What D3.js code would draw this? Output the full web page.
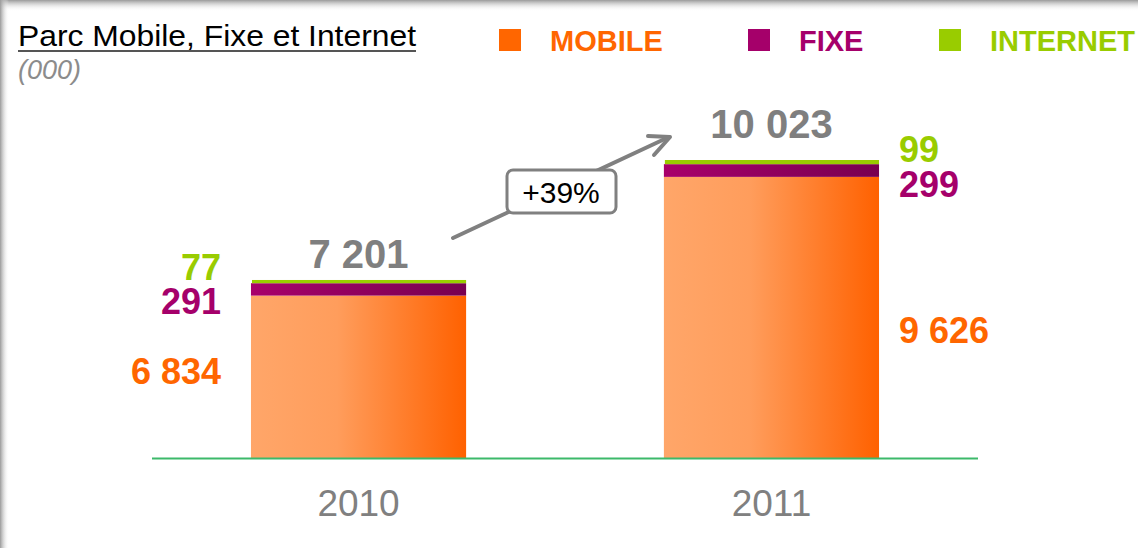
<!DOCTYPE html>
<html>
<head>
<meta charset="utf-8">
<script src="https://cdn.jsdelivr.net/npm/d3@7"></script>
<style>
  body { margin: 0; background: #fff; }
  svg { display: block; font-family: Arial, 'Liberation Sans', sans-serif; }
</style>
</head>
<body>
<div id="chart"></div>
<script>
// data (000)
const years = ['2010', '2011']
const mobile = [6834, 9626]
const fixe = [291, 299]
const internet = [77, 99]
const totals = [7201, 10023]
const growthLabel = '+39%'
const seriesNames = ['MOBILE', 'FIXE', 'INTERNET']
const seriesColors = ['#FF6600', '#A5006A', '#99CC00']

const width = 1138
const height = 548
const fmt = v => d3.format(',')(v).replace(/,/g, ' ')

const svg = d3.select('#chart').append('svg')
  .attr('width', width)
  .attr('height', height)

const defs = svg.append('defs')
const grad = (id, stops, dir) => {
  let g = defs.append('linearGradient').attr('id', id)
  if (dir === 'v') g.attr('x1', 0).attr('x2', 0).attr('y1', 0).attr('y2', 1)
  stops.forEach(s => g.append('stop').attr('offset', s[0]).attr('stop-color', s[1]).attr('stop-opacity', s[2] === undefined ? 1 : s[2]))
}
grad('gMobile', [[0, '#FFA669'], [0.4, '#FF9D5C'], [1, '#FF6100']])
grad('gFixe', [[0, '#A8006B'], [1, '#780050']])
grad('gTop', [[0, '#9a9a9a'], [1, '#ffffff', 0]], 'v')
grad('gLeft', [[0, '#9a9a9a'], [1, '#ffffff', 0]])

// frame shadow
svg.append('rect').attr('x', 0).attr('y', 0).attr('width', width).attr('height', 11).attr('fill', 'url(#gTop)')
svg.append('rect').attr('x', 0).attr('y', 0).attr('width', 9).attr('height', height).attr('fill', 'url(#gLeft)')

// title
svg.append('text')
  .attr('x', 18).attr('y', 46)
  .attr('font-size', 29)
  .attr('textLength', 398).attr('lengthAdjust', 'spacingAndGlyphs')
  .attr('fill', '#000')
  .text('Parc Mobile, Fixe et Internet')
svg.append('line')
  .attr('x1', 18).attr('x2', 416).attr('y1', 51).attr('y2', 51)
  .attr('stroke', '#555').attr('stroke-width', 2)
svg.append('text')
  .attr('x', 18).attr('y', 79)
  .attr('font-size', 27).attr('font-style', 'italic')
  .attr('fill', '#8c8c8c')
  .text('(000)')

// legend
const legendX = [499, 748, 939]
const legend = svg.append('g').selectAll('g').data(seriesNames).enter().append('g')
  .attr('transform', (d, i) => `translate(${legendX[i]},29)`)
legend.append('rect').attr('width', 22).attr('height', 22).attr('fill', (d, i) => seriesColors[i])
legend.append('text')
  .attr('x', 51).attr('y', 21.5)
  .attr('font-size', 29).attr('font-weight', 'bold')
  .attr('fill', (d, i) => seriesColors[i])
  .text(d => d)

// scales
const x = d3.scaleBand().domain(years).range([152, 978]).paddingInner(0.479).paddingOuter(0.2397)
const y = d3.scaleLinear().domain([3000, 10023]).range([458.6, 160])
const baseY = y(3000)

const bars = svg.append('g').selectAll('g').data(years).enter().append('g')
bars.append('rect')
  .attr('x', d => x(d)).attr('width', x.bandwidth())
  .attr('y', (d, i) => y(mobile[i]))
  .attr('height', (d, i) => baseY - y(mobile[i]))
  .attr('fill', 'url(#gMobile)')
bars.append('rect')
  .attr('x', d => x(d)).attr('width', x.bandwidth())
  .attr('y', (d, i) => y(mobile[i] + fixe[i]))
  .attr('height', (d, i) => y(mobile[i]) - y(mobile[i] + fixe[i]))
  .attr('fill', 'url(#gFixe)')
bars.append('rect')
  .attr('x', d => x(d) + 1).attr('width', x.bandwidth() - 1)
  .attr('y', (d, i) => y(totals[i]))
  .attr('height', (d, i) => y(mobile[i] + fixe[i]) - y(totals[i]))
  .attr('fill', seriesColors[2])

// baseline
svg.append('line')
  .attr('x1', 152).attr('x2', 978).attr('y1', baseY).attr('y2', baseY)
  .attr('stroke', '#3cb96a').attr('stroke-width', 2)

// x axis labels
svg.append('g').selectAll('text').data(years).enter().append('text')
  .attr('x', d => x(d) + x.bandwidth() / 2)
  .attr('y', 516)
  .attr('text-anchor', 'middle')
  .attr('font-size', 37)
  .attr('fill', '#808080')
  .text(d => d)

// segment labels: 2010 on the left, 2011 on the right
const labelSide = ['end', 'start']
const labelDx = [-30, 20]
const segOffsets = [[88, 31, 0], [166, 33, 2]]
const segLabels = svg.append('g')
years.forEach((yr, i) => {
  let lx = labelSide[i] === 'end' ? x(yr) + labelDx[i] : x(yr) + x.bandwidth() + labelDx[i]
  let vals = [mobile[i], fixe[i], internet[i]]
  let tops = [y(mobile[i]), y(mobile[i] + fixe[i]), y(totals[i])]
  vals.forEach((v, k) => {
    segLabels.append('text')
      .attr('x', lx).attr('y', tops[k] + segOffsets[i][k])
      .attr('text-anchor', labelSide[i])
      .attr('font-size', 36).attr('font-weight', 'bold')
      .attr('fill', seriesColors[k])
      .text(fmt(v))
  })
})

// totals
const totalOffsets = [-12, -22]
svg.append('g').selectAll('text').data(years).enter().append('text')
  .attr('x', d => x(d) + x.bandwidth() / 2)
  .attr('y', (d, i) => y(totals[i]) + totalOffsets[i])
  .attr('text-anchor', 'middle')
  .attr('font-size', 40).attr('font-weight', 'bold')
  .attr('fill', '#7f7f7f')
  .text((d, i) => fmt(totals[i]))

// growth arrow
const arrow = svg.append('g')
arrow.append('line')
  .attr('x1', 453).attr('y1', 238).attr('x2', 669).attr('y2', 137)
  .attr('stroke', '#808080').attr('stroke-width', 4).attr('stroke-linecap', 'round')
arrow.append('path')
  .attr('d', 'M648,136 L670,137 L654,155')
  .attr('fill', 'none').attr('stroke', '#808080').attr('stroke-width', 4)
  .attr('stroke-linecap', 'round').attr('stroke-linejoin', 'round')
arrow.append('rect')
  .attr('x', 507).attr('y', 170).attr('width', 109).attr('height', 43).attr('rx', 6)
  .attr('fill', '#fff').attr('stroke', '#808080').attr('stroke-width', 3)
arrow.append('text')
  .attr('x', 561).attr('y', 203)
  .attr('text-anchor', 'middle')
  .attr('font-size', 30).attr('fill', '#000')
  .text(growthLabel)
</script>
</body>
</html>
